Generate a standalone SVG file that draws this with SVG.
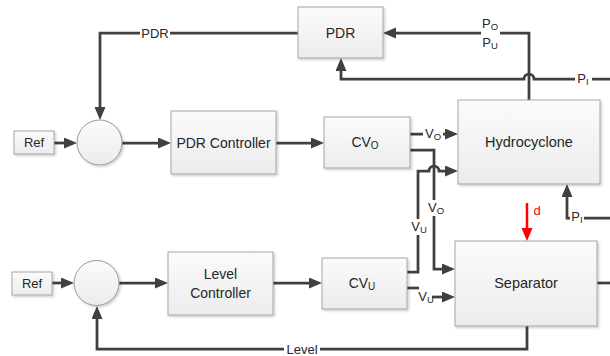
<svg xmlns="http://www.w3.org/2000/svg" width="610" height="356" viewBox="0 0 610 356">
  <defs>
    <linearGradient id="boxFill" x1="0" y1="0" x2="0" y2="1">
      <stop offset="0" stop-color="#fbfbfb"/>
      <stop offset="1" stop-color="#ececec"/>
    </linearGradient>
    <filter id="shadow" x="-10%" y="-10%" width="125%" height="130%">
      <feDropShadow dx="1.5" dy="1.5" stdDeviation="1" flood-color="#000" flood-opacity="0.2"/>
    </filter>
    <marker id="arrow" markerUnits="userSpaceOnUse" markerWidth="14" markerHeight="12" refX="9" refY="5.5" orient="auto">
      <path d="M0,0 L13,5.5 L0,11 z" fill="#404040"/>
    </marker>
    <marker id="arrowRed" markerUnits="userSpaceOnUse" markerWidth="14" markerHeight="12" refX="9" refY="5.5" orient="auto">
      <path d="M0,0 L13,5.5 L0,11 z" fill="#ff0000"/>
    </marker>
  </defs>
  <style>
    .box { fill: url(#boxFill); stroke: #a6a6a6; stroke-width: 1; filter: url(#shadow); }
    .sum { fill: url(#boxFill); stroke: #9a9a9a; stroke-width: 1; filter: url(#shadow); }
    .t { font-family: "Liberation Sans", Arial, sans-serif; font-size: 14px; fill: #262626; text-anchor: middle; dominant-baseline: central; }
    .lbl { font-family: "Liberation Sans", Arial, sans-serif; font-size: 13px; fill: #262626; text-anchor: middle; dominant-baseline: central; }
    .sub { font-size: 9.5px; }
    .wire { fill: none; stroke: #404040; stroke-width: 2.75; stroke-linejoin: miter; }
    .arr { marker-end: url(#arrow); }
    .red { fill: none; stroke: #ff0000; stroke-width: 2.5; marker-end: url(#arrowRed); }
    .gap { fill: #ffffff; }
  </style>

  <rect width="610" height="356" fill="#ffffff"/>

  <!-- signal lines -->
  <g id="connectors">
    <path class="wire arr" d="M298,33 H100 V116"/>
    <path class="wire arr" d="M54,143 H73"/>
    <path class="wire arr" d="M122,143 H167"/>
    <path class="wire arr" d="M276,143 H320"/>
    <path class="wire arr" d="M410,134 H454"/>
    <path class="wire arr" d="M407,272 H418 V171 H429 A5,5 0 0 1 439,171 H454"/>
    <path class="wire arr" d="M410,150 H434 V269 H451"/>
    <path class="wire" d="M407,288 H419"/>
    <path class="wire arr" d="M432,297 H451"/>
    <path class="wire arr" d="M529,100 V33 H387"/>
    <path class="wire arr" d="M610,79 H534 A5,5 0 0 0 524,79 H341 V62"/>
    <path class="wire arr" d="M610,218 H567 V188"/>
    <path class="red" d="M527,203 V237"/>
    <path class="wire arr" d="M527,326 V349 H97 V310"/>
    <path class="wire" d="M597,283 H610"/>
    <path class="wire arr" d="M52,283 H70"/>
    <path class="wire arr" d="M119,283 H164"/>
    <path class="wire arr" d="M273,283 H318"/>

    <!-- signal labels -->
    <rect class="gap" x="140" y="26" width="30" height="14"/>
    <text class="lbl" x="155" y="33">PDR</text>

    <rect class="gap" x="481" y="15" width="19" height="36"/>
    <text class="lbl" x="490" y="23">P<tspan class="sub" dy="3">O</tspan></text>
    <text class="lbl" x="490" y="42">P<tspan class="sub" dy="3">U</tspan></text>

    <rect class="gap" x="575" y="72" width="17" height="14"/>
    <text class="lbl" x="583" y="78">P<tspan class="sub" dy="3">I</tspan></text>

    <rect class="gap" x="423" y="127" width="20" height="14"/>
    <text class="lbl" x="433" y="133">V<tspan class="sub" dy="3">O</tspan></text>

    <rect class="gap" x="426" y="200" width="19" height="16"/>
    <text class="lbl" x="436" y="207">V<tspan class="sub" dy="3">O</tspan></text>

    <rect class="gap" x="409" y="219" width="19" height="16"/>
    <text class="lbl" x="419" y="226">V<tspan class="sub" dy="3">U</tspan></text>

    <text class="lbl" x="426" y="296">V<tspan class="sub" dy="3">U</tspan></text>

    <rect class="gap" x="570" y="211" width="14" height="14"/>
    <text class="lbl" x="577" y="216">P<tspan class="sub" dy="3">I</tspan></text>

    <text class="lbl" x="537" y="210" style="fill:#ff0000">d</text>

    <rect class="gap" x="284" y="342" width="36" height="14"/>
    <text class="lbl" x="302" y="349">Level</text>
  </g>

  <!-- blocks -->
  <g id="ref-top">
    <rect class="box" x="14" y="131" width="40" height="23"/>
    <text class="t" x="34" y="142.5" style="font-size:13px">Ref</text>
  </g>
  <g id="sum-top">
    <circle class="sum" cx="99.5" cy="142.5" r="22.5"/>
  </g>
  <g id="pdr-controller">
    <rect class="box" x="171" y="111" width="105" height="63"/>
    <text class="t" x="223.5" y="142.5">PDR Controller</text>
  </g>
  <g id="cv-o">
    <rect class="box" x="324" y="117" width="86" height="51"/>
    <text class="t" x="365" y="142">CV<tspan class="sub" dy="3" style="font-size:10px">O</tspan></text>
  </g>
  <g id="pdr">
    <rect class="box" x="298" y="7" width="85" height="51"/>
    <text class="t" x="340.5" y="32.5">PDR</text>
  </g>
  <g id="hydrocyclone">
    <rect class="box" x="458" y="100" width="142" height="84"/>
    <text class="t" x="529" y="142" style="font-size:14.5px">Hydrocyclone</text>
  </g>
  <g id="ref-bottom">
    <rect class="box" x="12" y="272" width="40" height="23"/>
    <text class="t" x="32" y="283.5" style="font-size:13px">Ref</text>
  </g>
  <g id="sum-bottom">
    <circle class="sum" cx="96.5" cy="283" r="22.5"/>
  </g>
  <g id="level-controller">
    <rect class="box" x="168" y="252" width="105" height="63"/>
    <text class="t" x="220.5" y="274">Level</text>
    <text class="t" x="220.5" y="293">Controller</text>
  </g>
  <g id="cv-u">
    <rect class="box" x="322" y="258" width="85" height="51"/>
    <text class="t" x="362" y="283">CV<tspan class="sub" dy="3" style="font-size:10px">U</tspan></text>
  </g>
  <g id="separator">
    <rect class="box" x="455" y="241" width="142" height="85"/>
    <text class="t" x="526" y="283" style="font-size:14.5px">Separator</text>
  </g>
</svg>
